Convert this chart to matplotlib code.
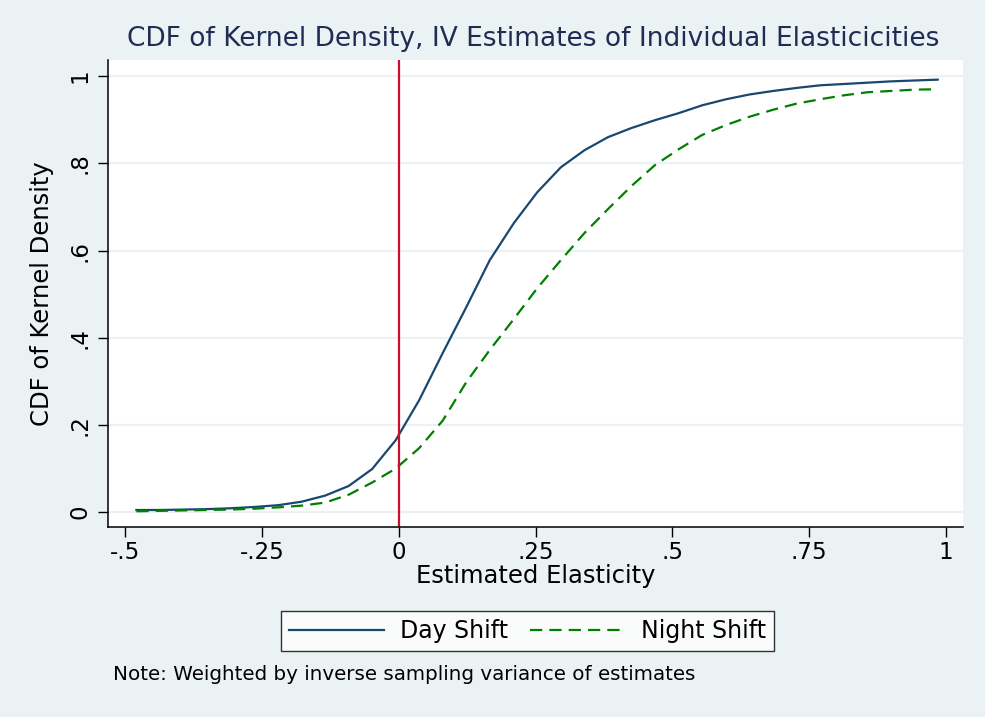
import matplotlib
matplotlib.use("Agg")
import matplotlib.pyplot as plt

# estimated elasticity grid and CDF values
elast = [-0.480, -0.437, -0.394, -0.351, -0.307, -0.264, -0.221, -0.178, -0.135,
         -0.092, -0.049, -0.006, 0.037, 0.080, 0.123, 0.166, 0.210, 0.253,
         0.296, 0.339, 0.382, 0.425, 0.468, 0.511, 0.554, 0.598, 0.641, 0.684,
         0.727, 0.770, 0.813, 0.856, 0.899, 0.942, 0.985]

day_cdf = [0.005, 0.005, 0.006, 0.007, 0.009, 0.012, 0.016, 0.024, 0.038,
           0.060, 0.099, 0.165, 0.257, 0.365, 0.470, 0.578, 0.663, 0.734,
           0.791, 0.830, 0.860, 0.881, 0.899, 0.915, 0.933, 0.947, 0.958, 0.966,
           0.973, 0.979, 0.982, 0.985, 0.988, 0.990, 0.992]

night_cdf = [0.002, 0.003, 0.004, 0.005, 0.006, 0.008, 0.011, 0.015, 0.022,
             0.040, 0.068, 0.100, 0.147, 0.210, 0.298, 0.372, 0.443, 0.514,
             0.578, 0.640, 0.695, 0.748, 0.796, 0.832, 0.865, 0.888, 0.907, 0.923,
             0.937, 0.947, 0.956, 0.963, 0.966, 0.969, 0.970]

xticks = [-0.5, -0.25, 0, 0.25, 0.5, 0.75, 1]
xticklabels = ['-.5', '-.25', '0', '.25', '.5', '.75', '1']
yticks = [0, 0.2, 0.4, 0.6, 0.8, 1]
yticklabels = ['0', '.2', '.4', '.6', '.8', '1']

bg = '#EAF2F3'
navy = '#1A476F'

fig = plt.figure(figsize=(9.85, 7.17), dpi=100, facecolor=bg)
ax = fig.add_axes([0.1096, 0.265, 0.868, 0.6513])
ax.set_facecolor('white')

ax.plot(elast, day_cdf, color=navy, lw=1.6, label='Day Shift')
ax.plot(elast, night_cdf, color='#008000', lw=1.6, linestyle=(0, (5.5, 3.2)), label='Night Shift')
ax.axvline(0, color='#C8102E', lw=1.6)

ax.set_xlim(-0.532, 1.031)
ax.set_ylim(-0.034, 1.037)
ax.set_xticks(xticks)
ax.set_xticklabels(xticklabels, fontsize=16.5)
ax.set_yticks(yticks)
ax.set_yticklabels(yticklabels, fontsize=16.5, rotation=90, va='center')
ax.yaxis.grid(True, color=bg, lw=1.6)
ax.set_axisbelow(True)
ax.tick_params(direction='out', length=7, width=1, color='black', pad=3)
ax.tick_params(axis='y', pad=5)

for side in ['top', 'right']:
    ax.spines[side].set_visible(False)
for side in ['left', 'bottom']:
    ax.spines[side].set_linewidth(1.1)

ax.set_xlabel('Estimated Elasticity', fontsize=17.5, labelpad=0)
ax.set_ylabel('CDF of Kernel Density', fontsize=17.5, labelpad=10)

fig.text(0.541, 0.946, 'CDF of Kernel Density, IV Estimates of Individual Elasticicities',
         ha='center', va='center', fontsize=19, color='#1F2D55')

leg = fig.legend(loc='center', bbox_to_anchor=(0.5355, 1 - 631 / 717), ncol=2,
                 fontsize=17, frameon=True, fancybox=False, handlelength=4.0,
                 columnspacing=0.9, borderpad=0.35, edgecolor='black',
                 handletextpad=0.7, borderaxespad=0)
leg.get_frame().set_linewidth(1.0)
leg.get_frame().set_facecolor('white')

fig.text(113 / 985, 1 - 675 / 717, 'Note: Weighted by inverse sampling variance of estimates',
         ha='left', va='center', fontsize=14.3)

fig.savefig('out.png', dpi=100, facecolor=bg)
